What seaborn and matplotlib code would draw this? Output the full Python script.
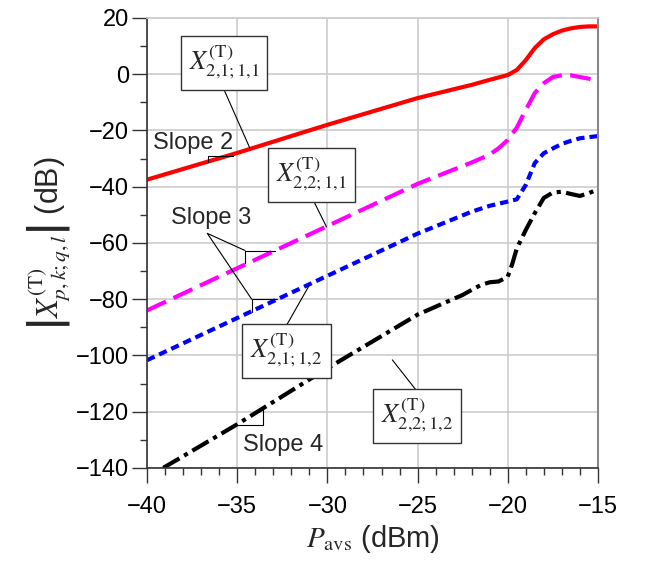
import numpy as np
import pandas as pd
import matplotlib
matplotlib.use("Agg")
import matplotlib.pyplot as plt
import seaborn as sns

# ---- data ----
x_211 = [-40, -35, -30, -25, -22, -21, -20, -19.5, -19, -18.5, -18, -17.5, -17, -16.5, -16, -15.5, -15]
y_211 = [-37.5, -28, -18, -8.5, -3.8, -2, -0.3, 1.5, 5, 9.3, 12.4, 14.2, 15.5, 16.3, 16.8, 17, 17]

x_221 = [-40, -35, -30, -25, -22, -21, -20.5, -20, -19.5, -19, -18.5, -18, -17.5, -17, -16.5, -16, -15.5, -15]
y_221 = [-84, -69, -54, -39, -31.4, -28.6, -26.3, -23.4, -19, -12.7, -6.7, -3.2, -1.0, -0.4, -0.4, -1.0, -1.6, -2.6]

x_212 = [-40, -35, -30, -25, -22, -21, -20, -19.5, -19, -18.5, -18, -17.5, -17, -16.5, -16, -15.5, -15]
y_212 = [-101.7, -86.7, -71.7, -56.7, -48.9, -46.8, -45.3, -44.5, -39.4, -31.6, -28.1, -26.4, -24.8, -23.7, -22.8, -22.4, -22]

x_222 = [-39.1, -35, -30, -25, -22.5, -22, -21.5, -21, -20.5, -20, -19.75, -19.5, -19, -18.5, -18, -17.5, -17, -16.5, -16, -15.5, -15]
y_222 = [-140, -124.5, -104.6, -85.5, -78.5, -76.7, -75, -74, -73.7, -72, -67.5, -62, -55.4, -49.4, -44, -42.1, -41.8, -42.6, -43.3, -42.3, -40.9]

series_names = ["X211", "X221", "X212", "X222"]
x_ticks = [-40, -35, -30, -25, -20, -15]
y_ticks = [-140, -120, -100, -80, -60, -40, -20, 0, 20]

frames = []
for name, xs, ys in zip(series_names, [x_211, x_221, x_212, x_222], [y_211, y_221, y_212, y_222]):
    frames.append(pd.DataFrame({"P": xs, "X": ys, "series": name}))
df = pd.concat(frames, ignore_index=True)

sns.set_theme(style="whitegrid")
plt.rcParams["font.family"] = ["Liberation Sans", "DejaVu Sans"]
plt.rcParams["mathtext.fontset"] = "stix"

fig = plt.figure(figsize=(6.45, 5.61), dpi=100)
ax = fig.add_axes([0.228, 0.166, 0.699, 0.802])

palette = {"X211": "#ff0000", "X221": "#ff00ff", "X212": "#0000ff", "X222": "#000000"}
dashes = {"X211": "", "X221": (5, 2), "X212": (2, 1.2), "X222": (4.5, 1.3, 1, 1.3)}
sns.lineplot(data=df, x="P", y="X", hue="series", style="series", palette=palette,
             dashes=dashes, linewidth=3, legend=False, ax=ax, sort=False)

ax.set_xlim(-40, -15)
ax.set_ylim(-140, 20)
ax.set_xticks(x_ticks)
ax.set_yticks(y_ticks)
ax.set_xticklabels([f"\u2212{abs(v)}" if v < 0 else str(v) for v in x_ticks])
ax.set_yticklabels([f"\u2212{abs(v)}" if v < 0 else str(v) for v in y_ticks])
ax.set_xticks(np.arange(-40, -14, 1), minor=True)
ax.set_yticks(np.arange(-140, 21, 10), minor=True)
ax.grid(True, which="major", color="#cccccc", lw=1.2)
ax.grid(False, which="minor")
ax.tick_params(axis="both", which="major", direction="out", length=11, width=1,
               color="#333333", labelsize=17, labelcolor="black", pad=2, bottom=True, left=True)
ax.tick_params(axis="x", which="major", pad=9)
ax.tick_params(axis="both", which="minor", direction="out", length=5, width=1,
               color="#333333", bottom=True, left=True)
for s in ["left", "bottom"]:
    ax.spines[s].set_color("#333333")
    ax.spines[s].set_linewidth(1.2)
ax.spines["top"].set_color("#cccccc")
ax.spines["right"].set_color("#888888")
ax.spines["right"].set_linewidth(1.5)

ax.set_xlabel(r"$P_{\mathrm{avs}}$ (dBm)", fontsize=21, labelpad=4)
ax.set_ylabel(r"$\left|X^{(\mathrm{T})}_{p,k;q,l}\right|$ (dB)", fontsize=22, labelpad=2)

# ---- annotations ----
box = dict(boxstyle="square,pad=0.3", fc="white", ec="#333333", lw=1)
lc = dict(color="black", lw=0.8)

def lbl(x, y, s):
    ax.text(x, y, s, fontsize=19, ha="center", va="center", bbox=box, zorder=5)

lbl(-35.73, 4, r"$X^{(\mathrm{T})}_{2{,}1{;}1{,}1}$")
ax.plot([-35.8, -34.3], [-4.5, -26.3], **lc, zorder=4)
lbl(-30.87, -36, r"$X^{(\mathrm{T})}_{2{,}2{;}1{,}1}$")
ax.plot([-30.8, -30.05], [-44.6, -54.3], **lc, zorder=4)
lbl(-32.27, -98.3, r"$X^{(\mathrm{T})}_{2{,}1{;}1{,}2}$")
ax.plot([-32.3, -31.0], [-89.7, -75.0], **lc, zorder=4)
lbl(-25.03, -121.5, r"$X^{(\mathrm{T})}_{2{,}2{;}1{,}2}$")
ax.plot([-25.0, -26.4], [-113.0, -101.6], **lc, zorder=4)

# slope markers
ax.text(-37.45, -24.5, "Slope 2", fontsize=17, ha="center", va="center")
ax.plot([-35.25, -36.62, -36.62], [-28.96, -28.96, -31.2], **lc)

ax.text(-36.45, -51.2, "Slope 3", fontsize=17, ha="center", va="center")
ax.plot([-32.9, -34.57, -34.57], [-62.7, -62.7, -67.2], **lc)
ax.plot([-32.81, -34.2, -34.2], [-80.0, -80.0, -84.4], **lc)
ax.plot([-34.57, -36.66, -34.2], [-62.7, -56.6, -80.0], **lc)

ax.text(-32.46, -132, "Slope 4", fontsize=17, ha="center", va="center")
ax.plot([-34.94, -33.55, -33.55], [-124.7, -124.7, -119.4], **lc)

fig.savefig("out.png", dpi=100)
